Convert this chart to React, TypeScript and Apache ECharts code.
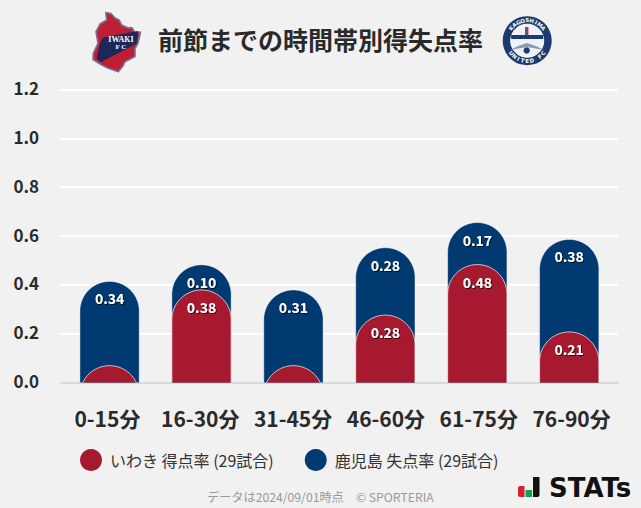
import React, { useEffect, useRef } from "react";
import * as echarts from "echarts";

const FONT = '"Noto Sans CJK JP", "Noto Sans", sans-serif';
const titleText = "前節までの時間帯別得失点率";
const footerText = "データは2024/09/01時点　© SPORTERIA";
const categories = ["0-15分", "16-30分", "31-45分", "46-60分", "61-75分", "76-90分"];
const scored = [0.069, 0.379, 0.069, 0.276, 0.483, 0.207];
const conceded = [0.345, 0.103, 0.31, 0.276, 0.172, 0.379];
const yTicks = { min: 0, max: 1.2, interval: 0.2 };
const scoredName = "いわき 得点率 (29試合)";
const concededName = "鹿児島 失点率 (29試合)";
const RED = "#a6192e";
const BLUE = "#003a70";
const BG = "#f1f1f1";
const INK = "#2a2a2a";

const capItem = (labelOf: (v: number) => string, fill: string, edge: string) =>
  (params: any, api: any) => {
    const cat = api.value(0);
    const top = api.value(1);
    const shown = api.value(2);
    const [cx, base] = api.coord([cat, 0]);
    const yTop = api.coord([cat, top])[1];
    const w = api.size([1, 0])[0] * 0.645;
    const r = w / 2;
    const cy = yTop + r;
    const arc: number[][] = [];
    const steps = 48;
    for (let k = 0; k <= steps; k++) {
      const a = Math.PI - (Math.PI * k) / steps;
      const y = cy - r * Math.sin(a);
      if (y <= base) arc.push([cx + r * Math.cos(a), y]);
    }
    const h = base - yTop;
    let outline: number[][];
    if (h >= r) {
      outline = [[cx - r, base], ...arc, [cx + r, base]];
    } else {
      const half = Math.sqrt(r * r - (r - h) * (r - h));
      outline = [[cx - half, base], ...arc, [cx + half, base]];
    }
    const children: any[] = [
      { type: "polygon", shape: { points: outline }, style: { fill } },
      {
        type: "polyline",
        shape: { points: outline },
        style: { fill: "none", stroke: edge, lineWidth: 1 },
      },
    ];
    const label = labelOf(shown);
    if (label) {
      children.push({
        type: "text",
        style: {
          text: label,
          x: cx,
          y: yTop + 17,
          fill: "#ffffff",
          font: `bold 14px ${FONT}`,
          textAlign: "center",
          textVerticalAlign: "middle",
          textShadowColor: "rgba(0,0,0,0.75)",
          textShadowBlur: 1,
          textShadowOffsetX: 1,
          textShadowOffsetY: 1,
        },
      });
    }
    return { type: "group", children };
  };

const shieldOutline = [
  [105.7, 12.5], [111, 13.5], [115, 18], [119, 20], [121.7, 25], [128.3, 28], [131.7, 27.5],
  [135, 32.5], [140.5, 32], [138, 43], [135, 49], [135, 56.5], [125, 61.7], [123, 66],
  [118.3, 71.7], [108.3, 68.3], [101.7, 65], [93, 59.5], [93.3, 53.3], [98, 43.3], [96, 31.7],
  [100, 24], [106.7, 20],
];
const shieldBand = [[96.5, 59], [99.5, 44], [103, 37.5], [138, 31], [137, 43.5], [101, 62]];
const mountainA = [[510, 50], [518, 46], [527, 43], [536, 46], [544, 50], [527, 47]];

const arcLetters = (text: string, cx: number, cy: number, r: number, from: number, step: number, inward: boolean) =>
  text.split("").map((ch, i) => {
    const deg = from + step * i;
    const a = (deg * Math.PI) / 180;
    return {
      type: "text",
      x: cx + r * Math.sin(a),
      y: cy - r * Math.cos(a),
      rotation: inward ? -a : Math.PI - a,
      style: {
        text: ch,
        fill: "#ffffff",
        font: `bold 5.5px "DejaVu Sans", sans-serif`,
        textAlign: "center",
        textVerticalAlign: "middle",
      },
      silent: true,
    };
  });

function App() {
  const ref = useRef<HTMLDivElement>(null);
  useEffect(() => {
    document.body.style.margin = "0";
    document.body.style.background = BG;
    const chart = echarts.init(ref.current!, null, { renderer: "svg" });
    const ckX = 527.2;
    const ckY = 40.7;
    chart.setOption({
      animation: false,
      backgroundColor: BG,
      title: {
        text: titleText,
        left: 153,
        top: 16,
        textStyle: { fontFamily: FONT, fontSize: 25, fontWeight: "bold", color: INK, lineHeight: 36 },
      },
      legend: {
        left: 75,
        top: 444,
        itemWidth: 22,
        itemHeight: 22,
        itemGap: 31,
        selectedMode: false,
        textStyle: { fontFamily: FONT, fontSize: 16, color: "#333333", padding: [0, 0, 0, 3] },
        data: [
          { name: scoredName, icon: "circle" },
          { name: concededName, icon: "circle" },
        ],
      },
      grid: [
        { left: 61, right: 23, top: 89.5, height: 293 },
        { left: 63.6, width: 551.6, top: 89.5, height: 293 },
        { left: 61, right: 23, top: 87.5, height: 293 },
      ],
      xAxis: [
        {
          type: "category",
          gridIndex: 0,
          data: categories,
          axisTick: { show: false },
          axisLine: { show: true, lineStyle: { color: "#d9d9d9", width: 2 } },
          axisLabel: { show: true, margin: 25, interval: 0, fontFamily: FONT, fontSize: 21, fontWeight: "bold", color: INK },
        },
        { type: "category", gridIndex: 1, data: categories, show: false },
        { type: "category", gridIndex: 2, data: categories, show: false },
      ],
      yAxis: [
        {
          type: "value",
          gridIndex: 0,
          ...yTicks,
          axisLine: { show: false },
          axisTick: { show: false },
          axisLabel: { show: false },
          splitLine: { show: true, lineStyle: { color: "#ffffff", width: 2 } },
        },
        { type: "value", gridIndex: 1, ...yTicks, show: false, splitLine: { show: false } },
        {
          type: "value",
          gridIndex: 2,
          ...yTicks,
          axisLine: { show: false },
          axisTick: { show: false },
          splitLine: { show: false },
          axisLabel: {
            margin: 22,
            formatter: (v: number) => v.toFixed(1),
            fontFamily: FONT,
            fontSize: 17,
            fontWeight: "bold",
            color: INK,
          },
        },
      ],
      series: [
        {
          type: "custom",
          name: concededName,
          xAxisIndex: 1,
          yAxisIndex: 1,
          itemStyle: { color: BLUE },
          encode: { x: 0, y: 1 },
          renderItem: capItem((v) => v.toFixed(2), BLUE, "rgba(255,255,255,0.45)"),
          data: categories.map((_, i) => [i, scored[i] + conceded[i], conceded[i]]),
          z: 2,
        },
        {
          type: "custom",
          name: scoredName,
          xAxisIndex: 1,
          yAxisIndex: 1,
          itemStyle: { color: RED },
          encode: { x: 0, y: 1 },
          renderItem: capItem((v) => (v >= 0.1 ? v.toFixed(2) : ""), RED, "rgba(255,255,255,0.7)"),
          data: categories.map((_, i) => [i, scored[i], scored[i]]),
          z: 3,
        },
      ],
      graphic: [
        {
          type: "text",
          left: 207,
          top: 491,
          style: { text: footerText, fill: "#999999", font: `12.2px ${FONT}` },
        },
        // Iwaki crest
        { type: "polygon", shape: { points: shieldOutline }, style: { fill: "#bf1e33", stroke: "#77739a", lineWidth: 1.6, lineJoin: "round" } },
        { type: "polygon", shape: { points: shieldBand }, style: { fill: "#1c2858" } },
        { type: "text", x: 121, y: 39.5, style: { text: "IWAKI", fill: "#ffffff", font: 'bold 8px "Liberation Serif", serif', textAlign: "center", textVerticalAlign: "middle" } },
        { type: "text", x: 121, y: 46.5, style: { text: "F C", fill: "#ffffff", font: 'bold 7px "Liberation Serif", serif', textAlign: "center", textVerticalAlign: "middle" } },
        // Kagoshima crest
        { type: "circle", shape: { cx: ckX, cy: ckY, r: 24.5 }, style: { fill: "#1c3a6e" } },
        { type: "circle", shape: { cx: ckX, cy: ckY, r: 16.5 }, style: { fill: "#eef1f5", stroke: "#ffffff", lineWidth: 1 } },
        { type: "polygon", shape: { points: mountainA }, style: { fill: "#8d9ab2" } },
        { type: "rect", shape: { x: ckX - 16, y: 35, width: 32, height: 4 }, style: { fill: "#1c3a6e" } },
        { type: "rect", shape: { x: ckX - 2, y: 27, width: 1.6, height: 8 }, style: { fill: "#1c3a6e" } },
        { type: "rect", shape: { x: ckX - 0.4, y: 27, width: 1.6, height: 8 }, style: { fill: "#d8263a" } },
        { type: "circle", shape: { cx: ckX - 0.5, cy: 50.5, r: 3.2 }, style: { fill: "#1c3a6e" } },
        ...arcLetters("KAGOSHIMA", ckX, ckY, 20.3, -52, 13, true),
        ...arcLetters("UNITED FC", ckX, ckY, 20.3, 232, -13, false),
        // STATs mark
        { type: "rect", shape: { x: 518, y: 486, width: 6.5, height: 11, r: [2, 0, 0, 2] }, style: { fill: "#d81e2c" } },
        { type: "rect", shape: { x: 525.5, y: 490, width: 6.5, height: 7 }, style: { fill: "#12a150" } },
        { type: "rect", shape: { x: 533, y: 477, width: 6.5, height: 20, r: [0, 0, 2, 0] }, style: { fill: "#111111" } },
        { type: "text", x: 549, y: 487.5, style: { text: "STATs", fill: "#111111", font: 'bold 26px "DejaVu Sans", sans-serif', textVerticalAlign: "middle" } },
      ],
    });
    return () => chart.dispose();
  }, []);
  return <div ref={ref} style={{ width: 641, height: 508 }} />;
}

export default App;
